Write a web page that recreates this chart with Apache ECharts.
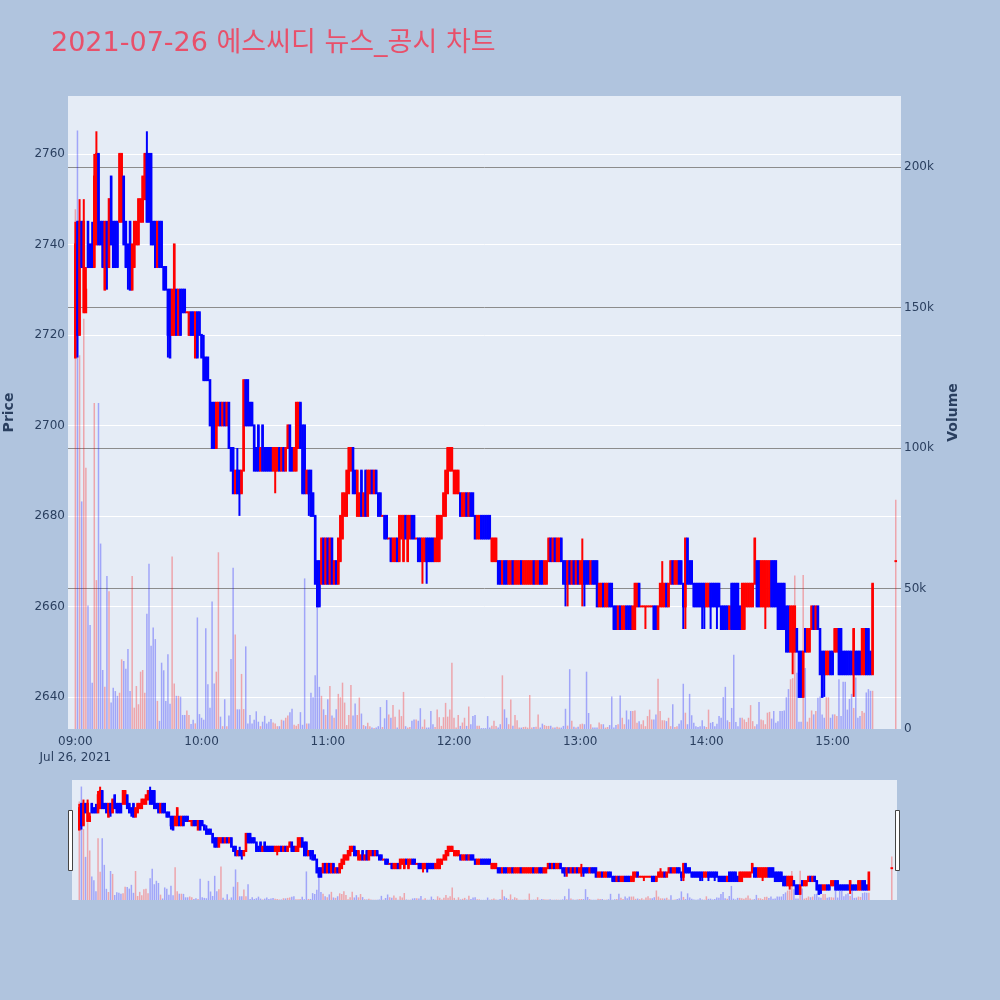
<!DOCTYPE html>
<html>
<head>
<meta charset="utf-8">
<script src="https://cdn.jsdelivr.net/npm/echarts@6/dist/echarts.min.js"></script>
<style>
html,body{margin:0;padding:0;background:#B0C4DE;}
#chart{width:1000px;height:1000px;}
</style>
</head>
<body>
<div id="chart"></div>
<script>
// ---------------- data ----------------
const titleText = '2021-07-26 에스씨디 뉴스_공시 차트';
const hourLabels = ['09:00','10:00','11:00','12:00','13:00','14:00','15:00'];
const dateLabel = 'Jul 26, 2021';
const axisFirstMinute = '08:57';
const axisLastMinute = '15:32';
const sessionStart = '09:00';   // first minute of the per-minute arrays below

const openP = [
2715,2745,2720,2745,2725,2725,2745,2740,2740,2735,
2740,2760,2745,2745,2730,2745,2735,2755,2745,2745,
2745,2745,2745,2755,2745,2740,2745,2730,2735,2740,
2740,2745,2745,2750,2760,2760,2760,2745,2745,2735,
2745,2745,2735,2735,2730,2730,2720,2720,2730,2720,
2730,2730,2730,2725,2720,2725,2725,2715,2725,2725,
2720,2715,2715,2715,2710,2705,2705,2695,2700,2705,
2700,2705,2700,2705,2695,2695,2685,2690,2690,2685,
2690,2710,2710,2705,2705,2700,2695,2700,2690,2700,
2695,2695,2695,2695,2690,2690,2690,2695,2690,2695,
2690,2695,2700,2695,2690,2690,2695,2705,2700,2700,
2685,2690,2690,2685,2680,2670,2670,2665,2675,2665,
2675,2665,2675,2665,2670,2665,2670,2675,2680,2680,
2685,2690,2695,2690,2680,2680,2690,2680,2690,2680,
2685,2690,2685,2690,2685,2685,2680,2680,2680,2675,
2675,2670,2670,2675,2670,2675,2670,2680,2670,2675,
2680,2680,2675,2675,2675,2670,2670,2675,2675,2675,
2675,2670,2670,2670,2675,2680,2680,2685,2690,2690,
2685,2685,2685,2685,2680,2680,2685,2680,2685,2685,
2680,2675,2675,2680,2680,2680,2680,2680,2670,2670,
2670,2670,2670,2665,2670,2670,2665,2665,2670,2665,
2665,2665,2670,2665,2665,2665,2665,2665,2670,2665,
2665,2670,2670,2665,2665,2670,2675,2670,2675,2670,
2670,2675,2670,2670,2665,2670,2665,2670,2665,2670,
2665,2665,2670,2670,2670,2665,2670,2670,2670,2660,
2660,2665,2660,2660,2665,2665,2660,2660,2655,2660,
2655,2655,2660,2660,2660,2655,2655,2660,2665,2660,
2660,2660,2660,2660,2660,2660,2660,2655,2660,2660,
2660,2665,2660,2665,2670,2665,2665,2670,2670,2665,
2660,2675,2670,2670,2665,2665,2665,2665,2665,2665,
2660,2660,2665,2665,2665,2665,2665,2660,2660,2660,
2660,2655,2665,2665,2665,2665,2660,2655,2655,2660,
2660,2660,2660,2665,2670,2670,2660,2660,2660,2660,
2660,2670,2670,2670,2665,2665,2665,2665,2660,2660,
2650,2650,2650,2655,2650,2650,2640,2655,2650,2650,
2655,2660,2655,2660,2655,2650,2650,2645,2645,2650,
2650,2650,2650,2655,2655,2650,2650,2650,2650,2650,
2645,2650,2650,2650,2645,2645,2655,2655,2650,2645
];
const closeP = [
2740,2720,2745,2735,2745,2730,2735,2735,2735,2755,
2760,2740,2740,2735,2745,2735,2750,2740,2735,2735,
2735,2760,2760,2740,2735,2735,2730,2740,2745,2745,
2750,2750,2755,2760,2745,2745,2740,2740,2735,2745,
2735,2735,2730,2730,2720,2715,2730,2740,2720,2730,
2720,2725,2725,2725,2725,2720,2720,2725,2715,2720,
2715,2710,2710,2710,2700,2695,2695,2705,2705,2700,
2705,2700,2705,2695,2690,2685,2690,2685,2685,2690,
2710,2700,2700,2700,2700,2690,2690,2690,2695,2690,
2690,2690,2690,2690,2695,2695,2695,2690,2695,2690,
2695,2700,2690,2690,2695,2705,2705,2695,2685,2685,
2690,2685,2680,2680,2665,2660,2660,2675,2665,2675,
2665,2675,2665,2670,2665,2675,2680,2685,2685,2690,
2695,2695,2685,2685,2690,2685,2680,2685,2680,2690,
2690,2685,2690,2685,2680,2680,2680,2675,2675,2675,
2670,2675,2675,2670,2680,2680,2680,2675,2680,2680,
2675,2675,2675,2670,2670,2675,2675,2670,2670,2670,
2670,2675,2680,2680,2680,2685,2690,2695,2695,2695,
2690,2690,2690,2680,2685,2685,2680,2685,2680,2680,
2675,2680,2680,2675,2675,2675,2675,2675,2675,2675,
2675,2665,2665,2670,2665,2665,2670,2670,2665,2670,
2670,2670,2665,2670,2670,2670,2670,2670,2665,2670,
2670,2665,2665,2670,2670,2675,2670,2675,2670,2675,
2675,2670,2665,2665,2670,2665,2670,2665,2670,2665,
2670,2670,2665,2665,2665,2670,2665,2665,2660,2665,
2665,2660,2665,2665,2660,2660,2655,2655,2660,2655,
2660,2660,2655,2655,2655,2660,2665,2665,2660,2660,
2660,2660,2660,2660,2660,2655,2655,2660,2665,2665,
2665,2660,2665,2670,2665,2670,2670,2665,2665,2660,
2675,2665,2665,2665,2660,2660,2660,2660,2660,2660,
2665,2665,2660,2660,2660,2660,2660,2655,2655,2655,
2655,2660,2655,2655,2655,2655,2655,2665,2665,2665,
2665,2665,2665,2675,2660,2660,2670,2670,2670,2670,
2670,2660,2660,2660,2655,2655,2655,2655,2650,2650,
2660,2660,2660,2650,2640,2640,2650,2650,2655,2655,
2660,2655,2660,2655,2645,2640,2645,2650,2650,2645,
2645,2655,2655,2645,2645,2645,2645,2645,2645,2645,
2655,2645,2645,2645,2655,2655,2645,2645,2645,2665
];
const lowP = [
2715,2715,2720,2735,2725,2725,2735,2735,2735,2735,
2740,2740,2740,2735,2730,2730,2735,2740,2735,2735,
2735,2745,2745,2740,2735,2730,2730,2730,2735,2740,
2740,2745,2745,2750,2745,2745,2740,2740,2735,2735,
2735,2735,2730,2730,2715,2715,2720,2720,2720,2720,
2720,2725,2725,2725,2720,2720,2720,2715,2715,2720,
2715,2710,2710,2710,2700,2695,2695,2695,2700,2700,
2700,2700,2700,2695,2690,2685,2685,2685,2680,2685,
2690,2700,2700,2700,2700,2690,2690,2690,2690,2690,
2690,2690,2690,2690,2690,2685,2690,2690,2690,2690,
2690,2695,2690,2690,2690,2690,2695,2695,2685,2685,
2685,2680,2680,2680,2665,2660,2660,2665,2665,2665,
2665,2665,2665,2665,2665,2665,2670,2675,2680,2680,
2685,2690,2685,2685,2680,2680,2680,2680,2680,2680,
2685,2685,2685,2685,2680,2680,2680,2675,2675,2675,
2670,2670,2670,2670,2670,2675,2670,2675,2670,2675,
2675,2675,2675,2670,2670,2665,2670,2665,2670,2670,
2670,2670,2670,2670,2675,2680,2680,2685,2690,2690,
2685,2685,2685,2680,2680,2680,2680,2680,2680,2680,
2675,2675,2675,2675,2675,2675,2675,2675,2670,2670,
2670,2665,2665,2665,2665,2665,2665,2665,2665,2665,
2665,2665,2665,2665,2665,2665,2665,2665,2665,2665,
2665,2665,2665,2665,2665,2670,2670,2670,2670,2670,
2670,2670,2665,2660,2660,2665,2665,2665,2665,2665,
2665,2660,2660,2665,2665,2665,2665,2665,2660,2660,
2660,2660,2660,2660,2660,2660,2655,2655,2655,2655,
2655,2655,2655,2655,2655,2655,2655,2660,2660,2660,
2660,2655,2660,2660,2660,2655,2655,2655,2660,2660,
2660,2660,2660,2665,2665,2665,2665,2665,2665,2655,
2655,2665,2665,2665,2660,2660,2660,2660,2655,2655,
2660,2660,2655,2660,2660,2655,2660,2655,2655,2655,
2655,2655,2655,2655,2655,2655,2655,2655,2655,2660,
2660,2660,2660,2665,2660,2660,2660,2660,2655,2660,
2660,2660,2660,2660,2655,2655,2655,2655,2650,2650,
2650,2645,2650,2650,2640,2640,2640,2650,2650,2650,
2655,2655,2655,2655,2645,2640,2640,2645,2645,2645,
2645,2650,2650,2645,2645,2645,2645,2645,2645,2645,
2640,2645,2645,2645,2645,2645,2645,2645,2645,2645
];
const highP = [
2745,2745,2750,2745,2750,2735,2745,2740,2745,2760,
2765,2760,2745,2745,2745,2745,2750,2755,2745,2745,
2745,2760,2760,2755,2745,2740,2745,2740,2745,2745,
2750,2750,2755,2760,2765,2760,2760,2745,2745,2745,
2745,2745,2735,2735,2730,2730,2730,2740,2730,2730,
2730,2730,2730,2725,2725,2725,2725,2725,2725,2725,
2720,2720,2715,2715,2710,2705,2705,2705,2705,2705,
2705,2705,2705,2705,2695,2695,2690,2695,2690,2690,
2710,2710,2710,2705,2705,2700,2695,2700,2695,2700,
2695,2695,2695,2695,2695,2695,2695,2695,2695,2695,
2695,2700,2700,2695,2695,2705,2705,2705,2700,2700,
2690,2690,2690,2685,2680,2670,2670,2675,2675,2675,
2675,2675,2675,2670,2670,2675,2680,2685,2685,2690,
2695,2695,2695,2690,2690,2685,2690,2685,2690,2690,
2690,2690,2690,2690,2685,2685,2680,2680,2680,2675,
2675,2675,2675,2675,2680,2680,2680,2680,2680,2680,
2680,2680,2675,2675,2675,2675,2675,2675,2675,2675,
2675,2675,2680,2680,2680,2685,2690,2695,2695,2695,
2690,2690,2690,2685,2685,2685,2685,2685,2685,2685,
2680,2680,2680,2680,2680,2680,2680,2680,2675,2675,
2675,2670,2670,2670,2670,2670,2670,2670,2670,2670,
2670,2670,2670,2670,2670,2670,2670,2670,2670,2670,
2670,2670,2670,2670,2670,2675,2675,2675,2675,2675,
2675,2675,2670,2670,2670,2670,2670,2670,2670,2670,
2670,2675,2670,2670,2670,2670,2670,2670,2670,2665,
2665,2665,2665,2665,2665,2665,2660,2660,2660,2660,
2660,2660,2660,2660,2660,2660,2665,2665,2665,2660,
2660,2660,2660,2660,2660,2660,2660,2660,2665,2670,
2665,2665,2665,2670,2670,2670,2670,2670,2670,2665,
2675,2675,2670,2670,2665,2665,2665,2665,2665,2665,
2665,2665,2665,2665,2665,2665,2665,2660,2660,2660,
2660,2660,2665,2665,2665,2665,2660,2665,2665,2665,
2665,2665,2665,2675,2670,2670,2670,2670,2670,2670,
2670,2670,2670,2670,2665,2665,2665,2665,2660,2660,
2660,2660,2660,2655,2650,2650,2650,2655,2655,2655,
2660,2660,2660,2660,2655,2650,2650,2650,2650,2650,
2650,2655,2655,2655,2655,2650,2650,2650,2650,2650,
2655,2650,2650,2650,2655,2655,2655,2655,2650,2665
];
// volume per minute, in thousands of shares
const volumeK = [
185,213,133,81,146,93,44,37,16.5,116,
53,116,66,21,15,54.5,49,9.4,14.7,13.5,
11.8,12.9,24.8,24.2,21.4,28.5,13.5,54.5,7.6,15.3,
8.8,20.4,21,12.9,41,58.8,29.6,36.1,32,10,
2.9,23.6,20.9,10,26.6,9,61.4,16.2,11.8,11.8,
11.5,5,5,6.6,5,1.8,3.3,2,39.7,5.3,
4,3.3,35.9,15.9,7.6,45.4,16.2,20.4,62.9,4.4,
1,10.6,1,4.8,24.9,57.4,33.6,7,7,19.6,
7.1,29.4,2,5,2,3.3,6.3,2.6,1,2.6,
4.7,2,2.6,3.6,2.3,2,1,1,3.3,3,
4,4.8,6,7.2,1.5,1.2,1.8,6,1.5,53.6,
2,2,12.9,11.3,19.1,53,15,11.8,7,5,
10.6,15.3,4.8,4,7,12.5,11.3,16.5,9.4,1.4,
5,15.7,4.8,9.1,5,11.2,5.5,1.4,1,2.2,
1,0.5,0.4,0.5,1,7.8,0.7,3.8,10.3,5.2,
4,8.5,4.4,0.5,6.9,4.6,13.2,1,0.5,0.7,
2.9,3.4,3.4,2.9,7.4,0.8,3.4,0.5,0.5,6.4,
1.7,0.7,6.9,4.2,1.1,4.2,9.3,4.4,6.9,23.6,
4,0.5,5,1.1,2.3,4,1.1,8,1.7,4.6,
5,1.2,1.2,0.3,0.3,0.3,4.6,0.5,1.2,2.9,
1.1,0.5,1.7,19.1,7,4,1.7,10.5,1.2,5,
3.1,0.5,0.5,0.7,0.8,0.5,12.1,0.5,0.7,0.8,
5.2,0.5,1.9,1.4,1.1,1.1,1.2,0.5,0.5,0.8,
0.5,0.5,1.1,7.2,1.2,21.3,2.9,0.8,0.5,0.8,
1.7,1.9,1.7,20.4,5.7,1.7,0.5,0.5,0.5,2.3,
1.7,1.7,0.5,0.7,1.4,11.6,0.5,1.4,1.7,11.9,
4,1.7,6.6,3.4,6.4,6.4,6.6,2.2,2.8,1.7,
3.1,1,4.6,6.9,3.4,3.4,5.2,17.9,6.4,3.1,
3.1,2.8,4,1,8.8,0.7,1,1.9,3.1,16.1,
5.8,1.7,12.5,4.9,2.2,1,0.7,1,3.1,1,
0.7,6.9,2.2,2.5,1,1.9,4.6,4,11.4,15,
3.1,2.5,7.5,26.4,2.5,1,4,4,3.4,2.5,
4,8.5,2.8,1,1.7,9.6,3.4,3.1,1.7,5.8,
6.1,3.7,6.4,2.2,2.8,6.4,6.4,6.6,11.3,14.2,
17.7,18.1,54.6,20,2.6,2.6,54.8,21.7,2.6,4,
6.6,5.2,6.4,11.1,11.6,5.2,4,11.3,11.3,4,
5.2,5.2,4.6,17.7,4.6,16.8,16.8,6.9,10.7,12.5,
7.5,18.3,4,4.6,6.4,5.8,13,14.2,13.6,13.6
];
// closing single-price auction
const auctionTime = '15:30';
const auctionOpen = 2670, auctionClose = 2670, auctionLow = 2670, auctionHigh = 2670;
const auctionVolumeK = 81.6;

// ---------------- build ----------------
const UP = '#FF0000', DOWN = '#0000FF';
const UP_VOL = 'rgba(255,0,0,0.3)', DOWN_VOL = 'rgba(0,0,255,0.3)';
const FONT = "'DejaVu Sans', 'Noto Sans CJK KR', sans-serif";
const TXT = '#2a3f5f';

function toMin(s){ const p = s.split(':').map(Number); return p[0]*60 + p[1]; }
function toLabel(t){ return String(Math.floor(t/60)).padStart(2,'0') + ':' + String(t%60).padStart(2,'0'); }
const cats = [];
for (let t = toMin(axisFirstMinute); t <= toMin(axisLastMinute); t++) cats.push(toLabel(t));

const startIdx = cats.indexOf(sessionStart);
// candle rows: [categoryIndex, open, close, low, high, direction(1 up / -1 down)]
const candleRows = [];
const volData = cats.map(() => '-');
let prevClose = null;
for (let i = 0; i < openP.length; i++) {
  const o = openP[i], c = closeP[i];
  const up = c > o || (c === o && (prevClose === null || prevClose <= c));
  candleRows.push([startIdx + i, o, c, lowP[i], highP[i], up ? 1 : -1]);
  volData[startIdx + i] = { value: volumeK[i], itemStyle: { color: up ? UP_VOL : DOWN_VOL } };
  prevClose = c;
}
const aIdx = cats.indexOf(auctionTime);
candleRows.push([aIdx, auctionOpen, auctionClose, auctionLow, auctionHigh, 1]);
volData[aIdx] = { value: auctionVolumeK, itemStyle: { color: UP_VOL } };

const priceMin = 2632.9, priceMax = 2772.8;
const volMax = 225.3;

function makeCandleRenderer(bodyW, wickW) {
  return function (params, api) {
    const x = api.value(0);
    const col = api.value(5) > 0 ? UP : DOWN;
    const pO = api.coord([x, api.value(1)]);
    const pC = api.coord([x, api.value(2)]);
    const pL = api.coord([x, api.value(3)]);
    const pH = api.coord([x, api.value(4)]);
    const top = Math.min(pO[1], pC[1]) - wickW / 2;
    const bot = Math.max(pO[1], pC[1]) + wickW / 2;
    return {
      type: 'group',
      children: [
        { type: 'line', shape: { x1: pH[0], y1: pH[1], x2: pL[0], y2: pL[1] },
          style: { stroke: col, lineWidth: wickW } },
        { type: 'rect', shape: { x: pO[0] - bodyW / 2, y: top, width: bodyW, height: bot - top },
          style: { fill: col } }
      ]
    };
  };
}

const chart = echarts.init(document.getElementById('chart'), null, { renderer: 'canvas' });
chart.setOption({
  backgroundColor: '#B0C4DE',
  animation: false,
  textStyle: { fontFamily: FONT },
  title: {
    text: titleText, left: 51, top: 30, padding: 0,
    textStyle: { color: '#E8506A', fontSize: 27, fontWeight: 'normal', fontFamily: FONT }
  },
  grid: [
    { left: 68, right: 99, top: 96, bottom: 271, show: true, backgroundColor: '#E5ECF6', borderWidth: 0, outerBoundsMode: 'none', containLabel: false },
    { left: 72, right: 103, top: 780, bottom: 100, show: true, backgroundColor: '#E5ECF6', borderWidth: 0, outerBoundsMode: 'none', containLabel: false }
  ],
  xAxis: [
    { type: 'category', gridIndex: 0, data: cats, boundaryGap: true,
      axisLine: { show: false }, axisTick: { show: false }, splitLine: { show: false },
      axisLabel: {
        interval: (i, v) => hourLabels.indexOf(v) >= 0,
        formatter: v => v === hourLabels[0] ? v + '\n' + dateLabel : v,
        color: TXT, fontSize: 12, margin: 5, lineHeight: 16, fontFamily: FONT
      } },
    { type: 'category', gridIndex: 1, data: cats, boundaryGap: true,
      axisLine: { show: false }, axisTick: { show: false }, axisLabel: { show: false }, splitLine: { show: false } }
  ],
  yAxis: [
    { type: 'value', gridIndex: 0, position: 'left', min: priceMin, max: priceMax, splitNumber: 7,
      name: 'Price', nameLocation: 'middle', nameRotate: 90, nameGap: 52,
      nameTextStyle: { color: TXT, fontSize: 14, fontWeight: 'bold', fontFamily: FONT },
      axisLine: { show: false }, axisTick: { show: false },
      axisLabel: { color: TXT, fontSize: 12, margin: 3, showMinLabel: false, showMaxLabel: false,
                   formatter: v => String(v), fontFamily: FONT },
      splitLine: { show: true, showMinLine: false, showMaxLine: false, lineStyle: { color: '#ffffff', width: 1 } } },
    { type: 'value', gridIndex: 0, position: 'right', min: 0, max: volMax, interval: 50,
      name: 'Volume', nameLocation: 'middle', nameRotate: 90, nameGap: 45,
      nameTextStyle: { color: TXT, fontSize: 14, fontWeight: 'bold', fontFamily: FONT },
      axisLine: { show: false }, axisTick: { show: false },
      axisLabel: { color: TXT, fontSize: 12, margin: 3, showMaxLabel: false,
                   formatter: v => v === 0 ? '0' : v + 'k', fontFamily: FONT },
      splitLine: { show: true, showMinLine: false, showMaxLine: false, lineStyle: { color: '#8c8c8c', width: 1 } } },
    { type: 'value', gridIndex: 1, min: priceMin, max: priceMax, show: false, splitLine: { show: false } },
    { type: 'value', gridIndex: 1, min: 0, max: volMax, show: false, splitLine: { show: false } }
  ],
  series: [
    { type: 'custom', name: 'price', xAxisIndex: 0, yAxisIndex: 0, data: candleRows,
      encode: { x: 0, y: [1, 2, 3, 4] }, clip: true, renderItem: makeCandleRenderer(2.6, 2), z: 2 },
    { type: 'bar', name: 'volume', xAxisIndex: 0, yAxisIndex: 1, data: volData,
      barWidth: 1.5, z: 3 },
    { type: 'custom', name: 'price-mini', xAxisIndex: 1, yAxisIndex: 2, data: candleRows,
      encode: { x: 0, y: [1, 2, 3, 4] }, clip: true, renderItem: makeCandleRenderer(2.6, 2), z: 2 },
    { type: 'bar', name: 'volume-mini', xAxisIndex: 1, yAxisIndex: 3, data: volData,
      barWidth: 1.5, z: 3 }
  ],
  graphic: [
    { type: 'rect', z: 10, shape: { x: 68.5, y: 810.5, width: 4, height: 60 },
      style: { fill: '#ffffff', stroke: '#444444', lineWidth: 1 } },
    { type: 'rect', z: 10, shape: { x: 895.5, y: 810.5, width: 4, height: 60 },
      style: { fill: '#ffffff', stroke: '#444444', lineWidth: 1 } }
  ]
});
</script>
</body>
</html>
